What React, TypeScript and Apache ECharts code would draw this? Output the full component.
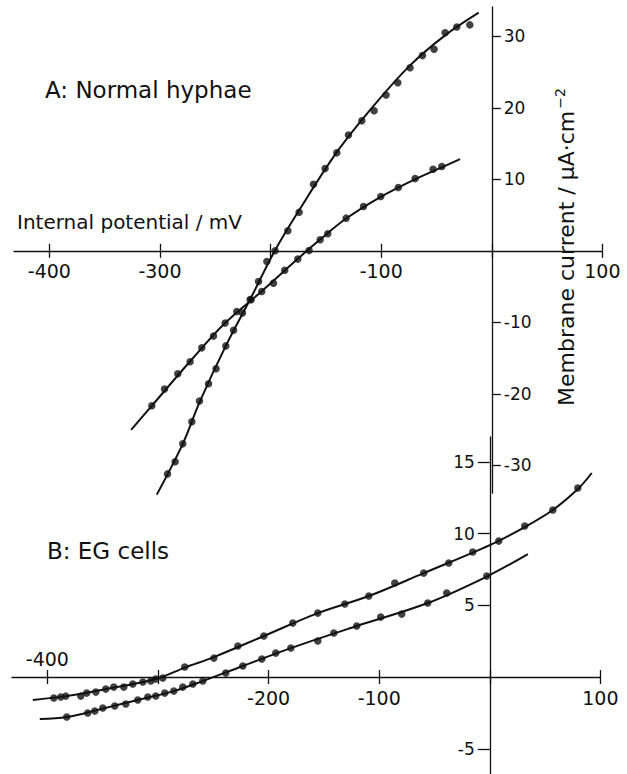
import React, { useEffect, useRef } from "react";
import * as echarts from "echarts";

// ---------- Data (mV, µA·cm^-2) ----------
// Panel A: normal hyphae
const aSteepDots: number[][] = [
  [-19.9, 31.6], [-31.6, 31.3], [-42.2, 30.5], [-52.2, 28.2], [-62.7, 27.3], [-73.9, 25.6],
  [-85.0, 23.5], [-95.6, 21.8], [-106.4, 19.6], [-117.5, 18.2], [-129.6, 16.2], [-140.1, 13.7],
  [-150.7, 11.5], [-161.2, 9.3], [-174.2, 5.4], [-184.4, 2.8], [-195.9, 0.0], [-203.4, -1.5],
  [-210.9, -4.3], [-218.5, -6.8], [-225.4, -8.7], [-233.5, -11.1], [-240.5, -13.3], [-249.3, -16.5],
  [-256.1, -18.6], [-264.3, -21.0], [-271.2, -23.9], [-279.4, -27.0], [-286.3, -29.5], [-293.2, -31.2],
];
const aSteepCurve: number[][] = [
  [-11.8, 33.3], [-42.5, 30.1], [-74.1, 25.9], [-106.7, 20.3], [-140.1, 13.8], [-174.5, 5.6],
  [-196.2, 0], [-217.9, -6.6], [-240.5, -13.3], [-264.0, -21.1], [-279.4, -27.0], [-302.9, -34.1],
];
const aShallowDots: number[][] = [
  [-45.2, 11.8], [-53.1, 11.4], [-69.3, 10.1], [-84.5, 8.85], [-100.4, 7.6], [-116.0, 6.2],
  [-131.7, 4.57], [-148.3, 2.38], [-155.2, 1.54], [-165.2, 0.04], [-175.4, -1.16], [-187.2, -2.73],
  [-197.4, -4.52], [-208.0, -5.69], [-217.6, -6.85], [-230.6, -8.49], [-241.1, -10.11], [-251.6, -11.93],
  [-262.2, -13.57], [-272.8, -15.52], [-283.9, -17.2], [-295.9, -19.34], [-307.4, -21.68],
];
const aShallowCurve: number[][] = [
  [-28.7, 12.83], [-45.2, 11.68], [-69.6, 10.0], [-100.4, 7.55], [-132.0, 4.48], [-155.5, 1.54],
  [-175.4, -1.12], [-208.0, -5.66], [-241.4, -10.14], [-273.1, -15.52], [-307.4, -21.68], [-326.1, -25.03],
];

// Panel B: EG cells
const bUpperDots: number[][] = [
  [-394.2, -1.46], [-387.9, -1.39], [-383.4, -1.33], [-369.8, -1.33], [-364.4, -1.12], [-356.2, -1.05],
  [-347.2, -0.84], [-340.0, -0.7], [-330.9, -0.7], [-322.8, -0.49], [-313.7, -0.35], [-306.5, -0.28],
  [-302.0, -0.14], [-295.7, -0.07], [-275.8, 0.7], [-249.5, 1.32], [-227.8, 2.16], [-204.3, 2.86],
  [-178.1, 3.77], [-155.5, 4.46], [-131.1, 5.09], [-109.4, 5.65], [-85.9, 6.56], [-59.7, 7.25],
  [-37.1, 7.95], [-15.4, 8.72], [8.1, 9.48], [31.6, 10.53], [57.0, 11.65], [79.6, 13.18],
];
const bUpperCurve: number[][] = [
  [-413.2, -1.6], [-383.4, -1.33], [-347.2, -0.84], [-302.0, -0.14], [-275.8, 0.66], [-249.5, 1.39],
  [-204.3, 2.86], [-155.5, 4.46], [-109.4, 5.65], [-59.7, 7.25], [0, 9.2], [31.6, 10.46],
  [57.0, 11.65], [79.6, 13.11], [92.2, 14.23],
];
const bLowerDots: number[][] = [
  [-382.5, -2.79], [-363.5, -2.51], [-357.1, -2.37], [-349.9, -2.16], [-339.1, -2.02], [-329.1, -1.88],
  [-318.3, -1.6], [-309.2, -1.39], [-302.0, -1.32], [-293.9, -1.12], [-285.7, -0.98], [-277.6, -0.7],
  [-268.5, -0.49], [-259.5, -0.28], [-238.7, 0.28], [-223.3, 0.77], [-206.1, 1.26], [-193.5, 1.67],
  [-179.9, 2.02], [-155.5, 2.51], [-141.0, 3.07], [-120.3, 3.56], [-98.6, 4.18], [-79.6, 4.39],
  [-56.1, 5.16], [-38.9, 5.86], [-2.7, 7.04],
];
const bLowerCurve: number[][] = [
  [-406.9, -2.93], [-382.5, -2.79], [-349.9, -2.2], [-318.3, -1.6], [-285.7, -0.98], [-259.5, -0.28],
  [-223.3, 0.77], [-179.9, 2.02], [-120.3, 3.56], [-56.1, 5.16], [-2.7, 7.01], [34.4, 8.58],
];

// Ticks and labels
const xTicks = [-400, -300, -200, -100, 0, 100];
const aXLabels = [-400, -300, -100, 100];
const bXLabelsBelow = [-200, -100, 100];
const bXLabelsAbove = [-400];
const aYTicks = [30, 20, 10, -10, -20, -30];
const bYTicks = [15, 10, 5, -5];

const X_MIN = -432;
const X_MAX = 100;
const A_Y_MIN = -33.9;
const A_Y_MAX = 34.1;
const B_Y_MIN = -6.76;
const B_Y_MAX = 16.74;

const INK = "#111111";
const FONT = "DejaVu Sans";

export default function App() {
  const ref = useRef<HTMLDivElement>(null);

  useEffect(() => {
    if (!ref.current) return;
    const chart = echarts.init(ref.current, undefined, { renderer: "svg" });

    const pxPerMv = 1.106;
    const gridW = (X_MAX - X_MIN) * pxPerMv;
    const aTop = 7;
    const aH = (A_Y_MAX - A_Y_MIN) * 7.15;
    const aZeroY = aTop + A_Y_MAX * 7.15;
    const bTop = 437;
    const bH = (B_Y_MAX - B_Y_MIN) * 14.34;
    const bZeroY = bTop + B_Y_MAX * 14.34;
    const aLeft = 14;
    const bLeft = 12;
    const aZeroX = aLeft + -X_MIN * pxPerMv;
    const bZeroX = bLeft + -X_MIN * pxPerMv;

    const line = { show: true, onZero: false, lineStyle: { color: INK, width: 1.3 } };
    const tickStyle = { color: INK, width: 1.3 };
    const lbl = { color: INK, fontFamily: FONT };
    const hiddenX = (g: number) => ({ type: "value", gridIndex: g, show: false, min: 0, max: 1 });
    const hiddenY = (g: number) => ({ type: "value", gridIndex: g, show: false, min: 0, max: 1 });
    const gridBase = { containLabel: false, outerBoundsMode: "none" };

    const option: any = {
      animation: false,
      backgroundColor: "#ffffff",
      textStyle: { fontFamily: FONT, color: INK },
      grid: [
        { ...gridBase, left: aLeft, top: aTop, width: gridW, height: aH }, // 0 A data
        { ...gridBase, left: aLeft, top: aTop, width: gridW, height: aZeroY - aTop }, // 1 A x-axis
        { ...gridBase, left: aZeroX, top: aTop, width: 100, height: aH }, // 2 A y-axis
        { ...gridBase, left: bLeft, top: bTop, width: gridW, height: bH }, // 3 B data
        { ...gridBase, left: bLeft, top: bTop, width: gridW, height: bZeroY - bTop }, // 4 B x-axis
        { ...gridBase, left: bZeroX, top: bTop, width: 100, height: bH }, // 5 B y-axis
      ],
      xAxis: [
        { type: "value", gridIndex: 0, show: false, min: X_MIN, max: X_MAX },
        {
          type: "value", gridIndex: 1, min: X_MIN, max: X_MAX, position: "bottom",
          splitLine: { show: false }, axisLine: line,
          axisTick: { show: true, length: 7, customValues: xTicks, lineStyle: tickStyle },
          axisLabel: { ...lbl, show: true, customValues: aXLabels, margin: 11, fontSize: 19 },
        },
        {
          type: "value", gridIndex: 1, min: X_MIN, max: X_MAX, position: "bottom",
          splitLine: { show: false }, axisLine: { show: false, onZero: false },
          axisTick: { show: true, inside: true, length: 7, customValues: xTicks, lineStyle: tickStyle },
          axisLabel: { show: false },
        },
        hiddenX(2),
        { type: "value", gridIndex: 3, show: false, min: X_MIN, max: X_MAX },
        {
          type: "value", gridIndex: 4, min: X_MIN, max: X_MAX, position: "bottom",
          splitLine: { show: false }, axisLine: line,
          axisTick: { show: true, length: 7, customValues: xTicks, lineStyle: tickStyle },
          axisLabel: { ...lbl, show: true, customValues: bXLabelsBelow, margin: 11, fontSize: 19 },
        },
        {
          type: "value", gridIndex: 4, min: X_MIN, max: X_MAX, position: "bottom",
          splitLine: { show: false }, axisLine: { show: false, onZero: false },
          axisTick: { show: true, inside: true, length: 7, customValues: xTicks, lineStyle: tickStyle },
          axisLabel: { ...lbl, show: true, inside: true, customValues: bXLabelsAbove, margin: 9, fontSize: 19 },
        },
        hiddenX(5),
      ],
      yAxis: [
        { type: "value", gridIndex: 0, show: false, min: A_Y_MIN, max: A_Y_MAX },
        hiddenY(1),
        {
          type: "value", gridIndex: 2, min: A_Y_MIN, max: A_Y_MAX, position: "left",
          splitLine: { show: false }, axisLine: line,
          axisTick: { show: true, inside: true, length: 9, customValues: aYTicks, lineStyle: tickStyle },
          axisLabel: { ...lbl, show: true, inside: true, customValues: aYTicks, margin: 12, fontSize: 17 },
        },
        { type: "value", gridIndex: 3, show: false, min: B_Y_MIN, max: B_Y_MAX },
        hiddenY(4),
        {
          type: "value", gridIndex: 5, min: B_Y_MIN, max: B_Y_MAX, position: "left",
          splitLine: { show: false }, axisLine: line,
          axisTick: { show: true, length: 12, customValues: bYTicks, lineStyle: tickStyle },
          axisLabel: { ...lbl, show: true, customValues: bYTicks, margin: 15, fontSize: 17 },
        },
      ],
      graphic: [
        {
          type: "text", x: 45, y: 90,
          style: { text: "A: Normal hyphae", fontSize: 23, fontFamily: FONT, fill: INK, textAlign: "left", verticalAlign: "middle", textVerticalAlign: "middle" },
        },
        {
          type: "text", x: 17, y: 222,
          style: { text: "Internal potential / mV", fontSize: 20, fontFamily: FONT, fill: INK, textAlign: "left", verticalAlign: "middle", textVerticalAlign: "middle" },
        },
        {
          type: "text", x: 47, y: 551,
          style: { text: "B: EG cells", fontSize: 23, fontFamily: FONT, fill: INK, textAlign: "left", verticalAlign: "middle", textVerticalAlign: "middle" },
        },
        {
          type: "text", x: 565, y: 247, rotation: Math.PI / 2,
          style: {
            text: "{a|Membrane current / μA·cm}{s|−2}",
            fontFamily: FONT, fill: INK,
            textAlign: "center", verticalAlign: "middle", textVerticalAlign: "middle",
            rich: {
              a: { fontSize: 22, fontFamily: FONT, fill: INK, color: INK, lineHeight: 24, verticalAlign: "bottom" },
              s: { fontSize: 14, fontFamily: FONT, fill: INK, color: INK, lineHeight: 24, verticalAlign: "top", padding: [0, 0, 0, 2] },
            },
          },
        },
      ],
      series: [
        { type: "line", xAxisIndex: 0, yAxisIndex: 0, data: aSteepCurve, smooth: 0.35, showSymbol: false, clip: false, lineStyle: { color: INK, width: 2 }, silent: true },
        { type: "line", xAxisIndex: 0, yAxisIndex: 0, data: aShallowCurve, smooth: 0.35, showSymbol: false, clip: false, lineStyle: { color: INK, width: 2 }, silent: true },
        { type: "scatter", xAxisIndex: 0, yAxisIndex: 0, data: aSteepDots, symbolSize: 7.5, itemStyle: { color: INK }, clip: false },
        { type: "scatter", xAxisIndex: 0, yAxisIndex: 0, data: aShallowDots, symbolSize: 7.5, itemStyle: { color: INK }, clip: false },
        { type: "line", xAxisIndex: 4, yAxisIndex: 3, data: bUpperCurve, smooth: 0.35, showSymbol: false, clip: false, lineStyle: { color: INK, width: 2 }, silent: true },
        { type: "line", xAxisIndex: 4, yAxisIndex: 3, data: bLowerCurve, smooth: 0.35, showSymbol: false, clip: false, lineStyle: { color: INK, width: 2 }, silent: true },
        { type: "scatter", xAxisIndex: 4, yAxisIndex: 3, data: bUpperDots, symbolSize: 7.5, itemStyle: { color: INK }, clip: false },
        { type: "scatter", xAxisIndex: 4, yAxisIndex: 3, data: bLowerDots, symbolSize: 7.5, itemStyle: { color: INK }, clip: false },
      ],
    };

    chart.setOption(option);
    return () => chart.dispose();
  }, []);

  return (
    <div
      ref={ref}
      style={{ position: "fixed", left: 0, top: 0, width: 627, height: 774, background: "#fff" }}
    />
  );
}
